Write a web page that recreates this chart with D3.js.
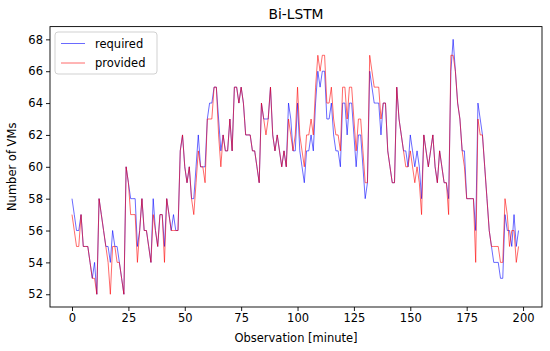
<!DOCTYPE html>
<html>
<head>
<meta charset="utf-8">
<script src="https://cdn.jsdelivr.net/npm/d3@7"></script>
<style>
  html, body { margin: 0; padding: 0; background: #fff; }
  text { font-family: "DejaVu Sans", sans-serif; fill: #000; }
</style>
</head>
<body>
<svg id="chart" width="550" height="351"></svg>
<script>
const title = "Bi-LSTM";
const xLabel = "Observation [minute]";
const yLabel = "Number of VMs";
const seriesNames = ["required", "provided"];
const xTicks = [0, 25, 50, 75, 100, 125, 150, 175, 200];
const yTicks = [52, 54, 56, 58, 60, 62, 64, 66, 68];

const required = [
58,57,56,56,57,55,55,55,54,53, 54,52,58,57,56,55,55,54,56,55,
55,54,53,52,60,59,58,58,58,55, 56,58,56,56,55,54,58,56,55,57,
57,55,58,57,56,57,56,56,61,62, 60,59,60,58,58,60,62,60,60,60,
63,64,64,65,65,63,61,62,61,61, 63,61,65,65,64,65,64,62,62,62,
61,61,60,59,64,63,63,63,65,62, 61,62,61,60,61,60,64,63,61,61,
64,61,60,59,61,61,62,61,64,66, 65,66,66,63,63,64,62,61,61,60,
64,64,62,64,64,62,60,62,62,60, 58,59,66,65,64,64,64,62,64,64,
61,60,59,59,65,63,62,61,61,60, 62,61,60,61,60,58,62,61,60,61,
62,60,59,61,60,59,59,58,66,68, 66,64,63,61,61,58,58,58,58,56,
64,63,62,60,58,56,55,54,54,54, 53,53,57,56,56,55,57,55,56
];
const provided = [
57,56,55,55,57,55,55,55,54,53, 53,52,58,57,56,55,54,52,55,55,
54,54,53,52,60,59,57,57,57,54, 56,58,56,56,55,54,57,56,55,57,
57,54,58,57,56,56,56,56,61,62, 60,59,60,58,57,59,61,60,60,59,
63,63,63,65,65,62,60,62,61,61, 63,61,65,65,64,65,64,62,62,62,
61,61,60,59,64,63,62,63,65,62, 61,62,61,60,61,60,63,62,61,62,
65,62,61,60,62,62,63,62,65,67, 66,67,67,64,64,65,63,62,62,61,
65,65,63,65,65,63,61,63,63,61, 59,59,67,66,65,65,65,63,64,64,
61,60,59,59,65,63,62,61,60,60, 61,60,59,60,59,57,62,61,60,61,
62,60,59,61,60,59,59,57,67,67, 66,64,63,61,60,58,58,58,58,54,
63,62,62,60,58,56,55,55,55,55, 54,54,58,57,55,56,56,54,55
];
const colors = ["#0000ff", "#ff0000"];

const svg = d3.select("#chart");
const L = 50, R = 542, T = 26.6, B = 307;

const x = d3.scaleLinear().domain([-9.76, 208.4]).range([L, R]);
const y = d3.scaleLinear().domain([51.2, 68.8]).range([B, T]);

// series
const line = d3.line().x((d, i) => x(i)).y(d => y(d));
[required, provided].forEach((s, k) => {
  svg.append("path")
    .attr("d", line(s))
    .attr("fill", "none")
    .attr("stroke", colors[k])
    .attr("stroke-opacity", 0.65)
    .attr("stroke-width", 0.9)
    .attr("stroke-linejoin", "round");
});

// frame
svg.append("rect")
  .attr("x", L).attr("y", T).attr("width", R - L).attr("height", B - T)
  .attr("fill", "none").attr("stroke", "#000").attr("stroke-width", 0.9);

// axes
const xAxis = d3.axisBottom(x).tickValues(xTicks).tickSize(4).tickPadding(3).tickFormat(d3.format("d"));
const gx = svg.append("g").attr("transform", `translate(0,${B})`).call(xAxis);
gx.select(".domain").remove();
gx.selectAll("text").style("font-size", "11.5px").style("font-family", "DejaVu Sans");
gx.selectAll("line").attr("stroke-width", 0.9);

const yAxis = d3.axisLeft(y).tickValues(yTicks).tickSize(4).tickPadding(3).tickFormat(d3.format("d"));
const gy = svg.append("g").attr("transform", `translate(${L},0)`).call(yAxis);
gy.select(".domain").remove();
gy.selectAll("text").style("font-size", "11.5px").style("font-family", "DejaVu Sans");
gy.selectAll("line").attr("stroke-width", 0.9);

// labels
svg.append("text").attr("x", (L + R) / 2).attr("y", 19).attr("text-anchor", "middle")
  .style("font-size", "13.8px").text(title);
svg.append("text").attr("x", (L + R) / 2).attr("y", 342).attr("text-anchor", "middle")
  .style("font-size", "11.5px").text(xLabel);
svg.append("text").attr("transform", `translate(16,${(T + B) / 2}) rotate(-90)`)
  .attr("text-anchor", "middle").style("font-size", "11.5px").text(yLabel);

// legend
const lg = svg.append("g");
lg.append("rect").attr("x", 55).attr("y", 32).attr("width", 102).attr("height", 42)
  .attr("rx", 3).attr("fill", "#fff").attr("fill-opacity", 0.8)
  .attr("stroke", "#ccc").attr("stroke-width", 0.9);
seriesNames.forEach((n, k) => {
  const yy = 43.5 + k * 19.5;
  lg.append("line").attr("x1", 61).attr("x2", 85).attr("y1", yy).attr("y2", yy)
    .attr("stroke", colors[k]).attr("stroke-opacity", 0.65).attr("stroke-width", 0.9);
  lg.append("text").attr("x", 95).attr("y", yy + 4).style("font-size", "11.5px").text(n);
});
</script>
</body>
</html>
